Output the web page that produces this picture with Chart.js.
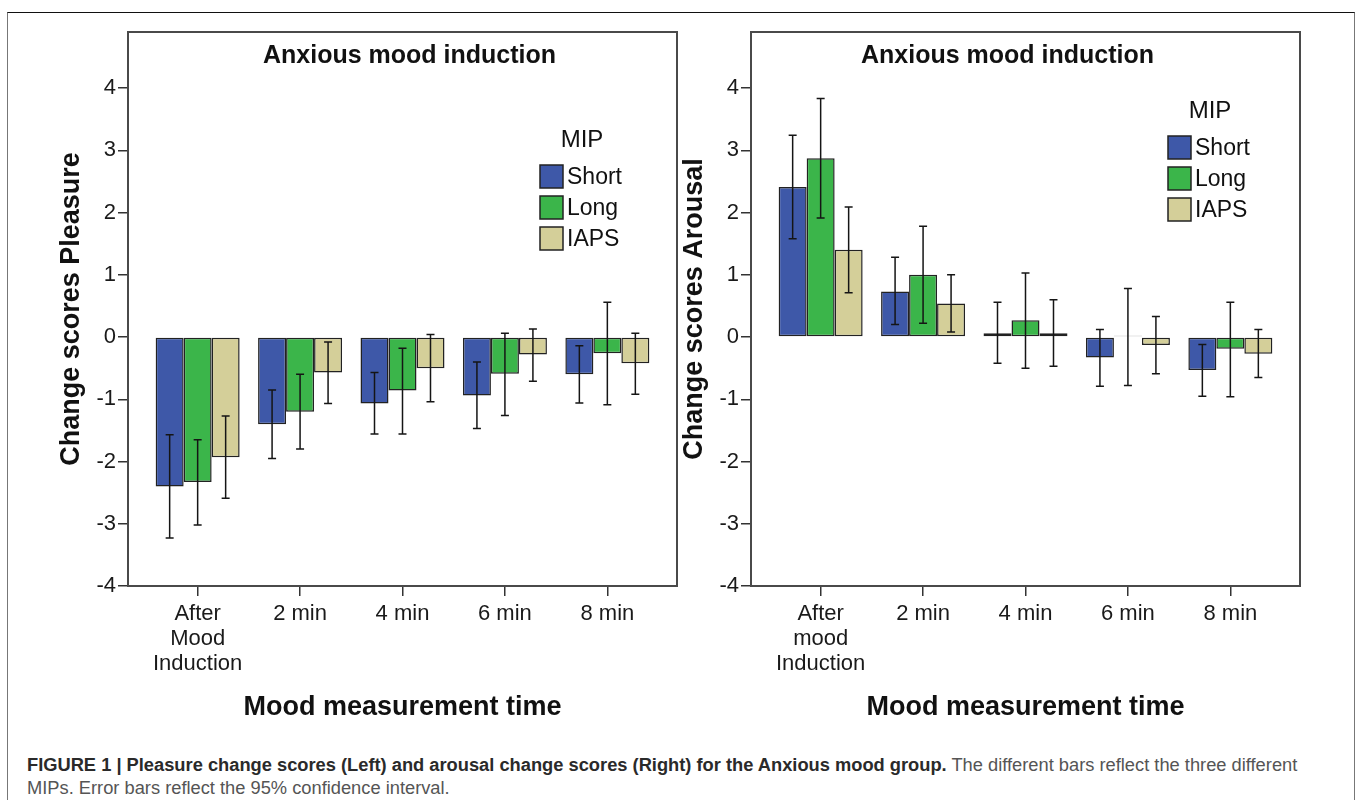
<!DOCTYPE html>
<html lang="en">
<head>
<meta charset="UTF-8">
<title>Figure 1 - Anxious mood induction</title>
<script src="https://cdn.jsdelivr.net/npm/chart.js"></script>
<style>
    body { margin: 0; background: #fff; font-family: 'Liberation Sans', Arial, sans-serif; }
    .figure { position: relative; width: 1357px; height: 800px; overflow: hidden; }
    .outer { position: absolute; left: 7px; top: 12px; width: 1346px; height: 820px;
             border-top: 1.5px solid #111; border-left: 1.5px solid #777; border-right: 1.5px solid #777; }
    canvas { position: absolute; top: 14px; }
    #pleasureChart { left: 10px; }
    #arousalChart { left: 633px; }
    .caption { position: absolute; left: 27px; top: 753px; width: 1310px; font-size: 18.3px; line-height: 23px; color: #555; }
    .caption b { color: #2a2a2a; }
</style>
</head>
<body>
<div class="figure">
    <div class="outer"></div>
    <canvas id="pleasureChart" width="680" height="716"></canvas>
    <canvas id="arousalChart" width="680" height="716"></canvas>
    <div class="caption">
        <b>FIGURE 1 | Pleasure change scores (Left) and arousal change scores (Right) for the Anxious mood group.</b>
        The different bars reflect the three different<br>MIPs. Error bars reflect the 95% confidence interval.
    </div>
</div>

<script>
// categories and ticks
const categoriesLeft = [['After', 'Mood', 'Induction'], '2 min', '4 min', '6 min', '8 min'];
const categoriesRight = [['After', 'mood', 'Induction'], '2 min', '4 min', '6 min', '8 min'];
const seriesNames = ['Short', 'Long', 'IAPS'];
const seriesColors = ['#3e58a8', '#3bb54a', '#d4cf99'];
const yTicks = [-4, -3, -2, -1, 0, 1, 2, 3, 4];

// pleasure change scores (mean, 95% CI low, high)
const pleasureShort   = [-2.40, -1.40, -1.07, -0.94, -0.60];
const pleasureShortLo = [-3.23, -1.95, -1.56, -1.47, -1.06];
const pleasureShortHi = [-1.57, -0.85, -0.57, -0.40, -0.14];
const pleasureLong    = [-2.33, -1.20, -0.86, -0.59, -0.26];
const pleasureLongLo  = [-3.02, -1.80, -1.56, -1.26, -1.09];
const pleasureLongHi  = [-1.65, -0.60, -0.18, 0.06, 0.56];
const pleasureIaps    = [-1.93, -0.57, -0.50, -0.28, -0.42];
const pleasureIapsLo  = [-2.59, -1.07, -1.04, -0.71, -0.92];
const pleasureIapsHi  = [-1.27, -0.08, 0.04, 0.13, 0.06];

// arousal change scores
const arousalShort   = [2.41, 0.73, 0.06, -0.33, -0.53];
const arousalShortLo = [1.58, 0.20, -0.42, -0.79, -0.95];
const arousalShortHi = [3.24, 1.28, 0.56, 0.12, -0.12];
const arousalLong    = [2.87, 1.00, 0.27, 0.02, -0.19];
const arousalLongLo  = [1.91, 0.22, -0.50, -0.78, -0.96];
const arousalLongHi  = [3.83, 1.78, 1.03, 0.78, 0.56];
const arousalIaps    = [1.40, 0.54, 0.06, -0.13, -0.27];
const arousalIapsLo  = [0.71, 0.08, -0.47, -0.59, -0.65];
const arousalIapsHi  = [2.09, 1.00, 0.60, 0.33, 0.12];

Chart.defaults.font.family = "'Liberation Sans', Arial, sans-serif";
Chart.defaults.color = '#1a1a1a';

const errorBars = {
    id: 'errorBars',
    afterDatasetsDraw(chart) {
        const ctx = chart.ctx, y = chart.scales.y;
        ctx.save();
        ctx.strokeStyle = '#151515';
        ctx.lineWidth = 1.5;
        chart.data.datasets.forEach((ds, i) => {
            chart.getDatasetMeta(i).data.forEach((bar, j) => {
                const top = y.getPixelForValue(ds.hi[j]);
                const bot = y.getPixelForValue(ds.lo[j]);
                ctx.beginPath();
                ctx.moveTo(bar.x, top); ctx.lineTo(bar.x, bot);
                ctx.moveTo(bar.x - 4, top); ctx.lineTo(bar.x + 4, top);
                ctx.moveTo(bar.x - 4, bot); ctx.lineTo(bar.x + 4, bot);
                ctx.stroke();
            });
        });
        ctx.restore();
    }
};

// frame, inner title and legend
const panelDecor = {
    id: 'panelDecor',
    afterDraw(chart, args, o) {
        const ctx = chart.ctx, a = chart.chartArea;
        ctx.save();
        ctx.strokeStyle = '#4a4a4a';
        ctx.lineWidth = 2;
        ctx.strokeRect(a.left, a.top, a.right - a.left, a.bottom - a.top);

        ctx.fillStyle = '#111';
        ctx.textBaseline = 'middle';
        ctx.textAlign = 'center';
        ctx.font = "bold 25px 'Liberation Sans', Arial, sans-serif";
        ctx.fillText(o.title, (a.left + a.right) / 2 + o.titleShift, a.top + 24);

        const lx = a.left + o.legendX, ly = a.top + o.legendY;
        ctx.font = "24px 'Liberation Sans', Arial, sans-serif";
        ctx.fillText('MIP', lx + 42, ly);
        ctx.textAlign = 'left';
        ctx.font = "23px 'Liberation Sans', Arial, sans-serif";
        chart.data.datasets.forEach((ds, k) => {
            const by = ly + 25 + k * 31;
            ctx.fillStyle = ds.backgroundColor;
            ctx.fillRect(lx, by, 23, 23);
            ctx.strokeStyle = '#222';
            ctx.lineWidth = 1.5;
            ctx.strokeRect(lx, by, 23, 23);
            ctx.fillStyle = '#111';
            ctx.fillText(ds.label, lx + 27, by + 13);
        });
        ctx.restore();
    }
};

function makeChart(id, cfg) {
    const datasets = seriesNames.map((name, k) => ({
        label: name,
        data: cfg.values[k].map((v, i) => ({ x: i, y: v })),
        lo: cfg.lo[k],
        hi: cfg.hi[k],
        backgroundColor: seriesColors[k],
        borderColor: '#222',
        borderWidth: 1.5,
        borderSkipped: false,
        categoryPercentage: 0.82,
        barPercentage: 1.0
    }));

    const axisGrid = { drawOnChartArea: false, tickLength: 10, color: '#333', lineWidth: 1.5, offset: false };

    return new Chart(document.getElementById(id), {
        type: 'bar',
        data: { datasets },
        options: {
            responsive: false,
            animation: false,
            devicePixelRatio: 1,
            events: [],
            layout: { padding: { top: 18, right: 13, left: 0, bottom: 0 } },
            scales: {
                x: {
                    type: 'linear',
                    min: -0.68, max: 4.68,
                    bounds: 'data',
                    offset: false,
                    afterFit: s => { s.height = 144; },
                    afterBuildTicks: s => { s.ticks = cfg.categories.map((c, i) => ({ value: i })); },
                    ticks: {
                        callback: v => cfg.categories[v],
                        font: { size: 22, lineHeight: 1.14 },
                        padding: 5,
                        maxRotation: 0,
                        autoSkip: false
                    },
                    grid: axisGrid,
                    border: { display: false },
                    title: {
                        display: true,
                        text: 'Mood measurement time',
                        font: { size: 27, weight: 'bold' },
                        color: '#111',
                        padding: { top: 0, bottom: 6 }
                    }
                },
                y: {
                    min: -4, max: 4.9,
                    bounds: 'data',
                    afterFit: s => { s.width = 118; },
                    afterBuildTicks: s => { s.ticks = yTicks.map(v => ({ value: v })); },
                    ticks: { font: { size: 22 }, padding: 2 },
                    grid: axisGrid,
                    border: { display: false },
                    title: {
                        display: true,
                        text: cfg.yTitle,
                        font: { size: 27, weight: 'bold' },
                        color: '#111',
                        padding: { top: 45, bottom: 0 }
                    }
                }
            },
            plugins: {
                legend: { display: false },
                tooltip: { enabled: false },
                panelDecor: cfg.decor
            }
        },
        plugins: [errorBars, panelDecor]
    });
}

makeChart('pleasureChart', {
    categories: categoriesLeft,
    yTitle: 'Change scores Pleasure',
    values: [pleasureShort, pleasureLong, pleasureIaps],
    lo: [pleasureShortLo, pleasureLongLo, pleasureIapsLo],
    hi: [pleasureShortHi, pleasureLongHi, pleasureIapsHi],
    decor: { title: 'Anxious mood induction', titleShift: 7, legendX: 412, legendY: 108 }
});

makeChart('arousalChart', {
    categories: categoriesRight,
    yTitle: 'Change scores Arousal',
    values: [arousalShort, arousalLong, arousalIaps],
    lo: [arousalShortLo, arousalLongLo, arousalIapsLo],
    hi: [arousalShortHi, arousalLongHi, arousalIapsHi],
    decor: { title: 'Anxious mood induction', titleShift: -18, legendX: 417, legendY: 79 }
});
</script>
</body>
</html>
